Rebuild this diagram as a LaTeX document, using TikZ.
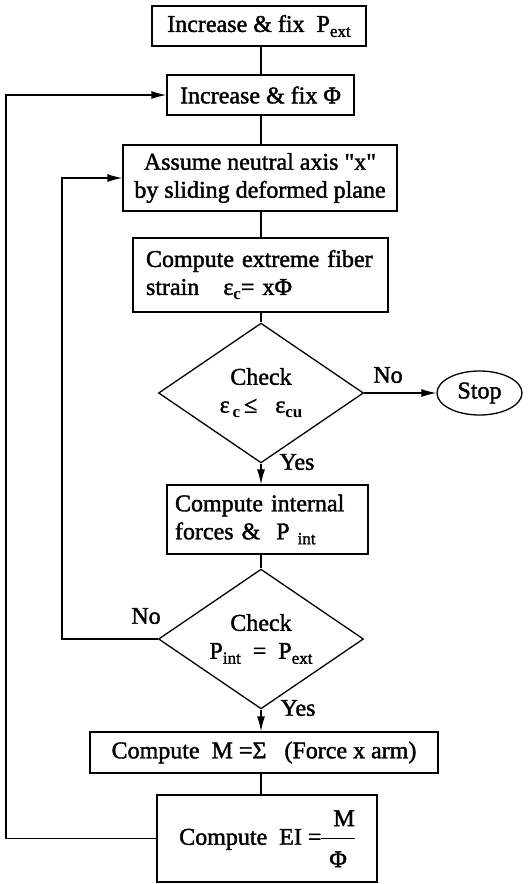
\documentclass[tikz,border=0pt]{standalone}
\usepackage{fontspec}
\setmainfont{Liberation Serif}[Ligatures=TeXOff,UprightFeatures={FakeBold=1.6}]
\usetikzlibrary{shapes.geometric,arrows.meta}

% small lowered index (P ext, eps c, ...)
\newcommand{\lowsub}[1]{\raisebox{-0.45ex}{\fontsize{17}{17}\selectfont #1}}

\begin{document}
\begin{tikzpicture}[x=1pt,y=-1pt,line width=1.3pt,
  font=\fontsize{24}{28}\selectfont,
  >={Latex[length=15pt,width=8pt]},
  box/.style={draw,rectangle,inner sep=0pt,align=center},
  leftbox/.style={box,align=left},
  test/.style={draw,diamond,inner sep=0pt,align=center},
  stopbox/.style={draw,ellipse,inner sep=0pt},
  lbl/.style={inner sep=0pt}]
\useasboundingbox (0,0) rectangle (531,884);

% main column
\coordinate (spine) at (261,0);
\coordinate (outer) at (6,0);
\coordinate (inner) at (62,0);

\node[box, minimum width=214pt, minimum height=40pt] (pext) at (259,26) {Increase \& fix\ \ P\lowsub{ext}};
\node[box, minimum width=187pt, minimum height=40pt] (phi) at (260.5,95) {Increase \& fix Φ};
\node[box, minimum width=274pt, minimum height=66pt] (axis) at (260,178) {Assume neutral axis "x"\\by sliding deformed plane};
\node[leftbox, minimum width=255pt, minimum height=74pt, text width=229pt] (strain) at (260.5,275) {Compute extreme fiber\\strain\ \ \ ε\lowsub{\textbf{c}}= xΦ};
\node[test, minimum width=205pt, minimum height=108pt] (echeck) at (261,393) {Check\\\makebox[90pt]{ε\lowsub{\textbf{\,c}}\,≤\ \ \ ε\lowsub{\textbf{cu}}}};
\node[stopbox, minimum width=85pt, minimum height=44pt] (stop) at (479.5,393) {Stop};
\node[leftbox, minimum width=201pt, minimum height=69pt, text width=185pt] (forces) at (267.5,519.5) {Compute internal\\forces \&\ \ P\lowsub{ int}};
\node[test, minimum width=205pt, minimum height=112pt] (pcheck) at (261,639) {Check\\\makebox[90pt]{P\lowsub{int}\ \ =\ \ P\lowsub{ext}}};
\node[box, minimum width=348pt, minimum height=41pt] (moment) at (264,752.5) {Compute\ \ M =Σ\ \ \ (Force x arm)};
\node[box, minimum width=220pt, minimum height=87pt] (ei) at (267,838.5) {Compute\ \ EI =\renewcommand{\arraystretch}{1.45}\begin{tabular}{@{}c@{}}\hspace{12pt}M\hspace{12pt}\\\hline Φ\end{tabular}};

% branch labels
\node[lbl] (no1) at (388,375) {No};
\node[lbl] (yes1) at (297,462) {Yes};
\node[lbl] (no2) at (146,616) {No};
\node[lbl] (yes2) at (298,708) {Yes};

% flow
\draw (pext.south -| spine) -- (phi.north -| spine);
\draw (phi.south -| spine) -- (axis.north -| spine);
\draw (axis.south -| spine) -- (strain.north -| spine);
\draw (strain.south -| spine) -- (echeck.north);
\draw[->] (echeck.east) -- (stop.west);
\draw[->] (echeck.south) -- (forces.north -| spine);
\draw (forces.south -| spine) -- (pcheck.north);
\draw[->] (pcheck.south) -- (moment.north -| spine);
\draw (moment.south -| spine) -- (ei.north -| spine);

% loops back
\draw[->] (pcheck.west) -- (pcheck.west -| inner) |- (axis.west);
\draw[->] (ei.west) -- (ei.west -| outer) |- (phi.west);
\end{tikzpicture}
\end{document}
